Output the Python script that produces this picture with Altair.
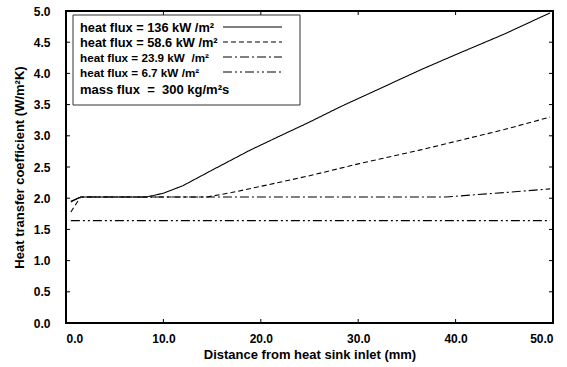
import altair as alt
import pandas as pd

# series data (distance mm, heat transfer coefficient)
x136 = [0.5, 1.5, 4.0, 8.3, 10.0, 12.0, 15.0, 18.9, 22.0, 25.0, 28.1, 32.0, 36.3, 40.0, 45.0, 49.7]
y136 = [1.94, 2.02, 2.02, 2.02, 2.08, 2.20, 2.45, 2.77, 3.00, 3.22, 3.46, 3.74, 4.05, 4.30, 4.63, 4.97]
x586 = [0.5, 1.5, 5.0, 10.0, 14.5, 17.0, 20.0, 25.0, 30.0, 36.3, 40.0, 45.0, 49.7]
y586 = [1.78, 2.02, 2.02, 2.02, 2.02, 2.09, 2.19, 2.36, 2.55, 2.77, 2.91, 3.10, 3.30]
x239 = [0.5, 1.5, 10.0, 20.0, 30.0, 39.0, 45.0, 49.7]
y239 = [1.95, 2.02, 2.02, 2.02, 2.02, 2.02, 2.09, 2.15]
x67 = [0.5, 10.0, 20.0, 30.0, 40.0, 49.7]
y67 = [1.64, 1.64, 1.64, 1.64, 1.64, 1.64]

series_names = ["136", "58.6", "23.9", "6.7"]
dashes = [[1, 0], [5, 3], [9, 3, 2, 3], [9, 3, 2, 3, 2, 3]]
NB = "\u00a0"
legend_labels = ["heat flux = 136 kW /m²", "heat flux = 58.6 kW /m²",
                 "heat flux = 23.9 kW" + NB + NB + "/m²", "heat flux = 6.7 kW /m²"]
legend_sizes = [12.8, 12.8, 11.7, 11.7]
mass_label = "mass flux" + NB + NB + "=" + NB + NB + "300 kg/m²s"

x_ticks = [10, 20, 30, 40]
y_ticks = [0.5, 1.0, 1.5, 2.0, 2.5, 3.0, 3.5, 4.0, 4.5]

W, H = 487, 312
FONT = "Liberation Sans"

xs = alt.Scale(domain=[0, 50], nice=False)
ys = alt.Scale(domain=[0, 5], nice=False)

xaxis = alt.Axis(values=[0, 10, 20, 30, 40, 50], format=".1f", ticks=False,
                 grid=False, domain=False, labelFont=FONT, labelFontWeight="bold",
                 labelFontSize=12, labelColor="black", labelPadding=10,
                 title="Distance from heat sink inlet (mm)", titleFont=FONT,
                 titleFontWeight="bold", titleFontSize=13, titleColor="black",
                 titlePadding=4)
yaxis = alt.Axis(values=[0, 0.5, 1, 1.5, 2, 2.5, 3, 3.5, 4, 4.5, 5], format=".1f",
                 ticks=False, grid=False, domain=False, labelFont=FONT,
                 labelFontWeight="bold", labelFontSize=12, labelColor="black",
                 labelPadding=16, title="Heat transfer coefficient (W/m²K)",
                 titleFont=FONT, titleFontWeight="bold", titleFontSize=13,
                 titleColor="black", titlePadding=7)

layers = []
all_x = [x136, x586, x239, x67]
all_y = [y136, y586, y239, y67]
for i, name in enumerate(series_names):
    df = pd.DataFrame({"x": all_x[i], "y": all_y[i]})
    layers.append(alt.Chart(df).mark_line(color="black", strokeWidth=1.1,
                                          strokeDash=dashes[i]).encode(
        x=alt.X("x:Q", scale=xs, axis=xaxis),
        y=alt.Y("y:Q", scale=ys, axis=yaxis)))

# inward ticks
xt = pd.DataFrame({"x": x_ticks})
yt = pd.DataFrame({"y": y_ticks})
layers.append(alt.Chart(xt).mark_rule(color="black", strokeWidth=1).encode(
    x=alt.X("x:Q", scale=xs, axis=xaxis), y=alt.value(H), y2=alt.value(H - 4)))
layers.append(alt.Chart(xt).mark_rule(color="black", strokeWidth=1).encode(
    x=alt.X("x:Q", scale=xs, axis=xaxis), y=alt.value(0), y2=alt.value(4)))
layers.append(alt.Chart(yt).mark_rule(color="black", strokeWidth=1).encode(
    y=alt.Y("y:Q", scale=ys, axis=yaxis), x=alt.value(0), x2=alt.value(4)))
layers.append(alt.Chart(yt).mark_rule(color="black", strokeWidth=1).encode(
    y=alt.Y("y:Q", scale=ys, axis=yaxis), x=alt.value(W), x2=alt.value(W - 4)))

# legend box
layers.append(alt.Chart(pd.DataFrame({"a": [0]})).mark_rect(
    fill="white", stroke="#333333", strokeWidth=1).encode(
    x=alt.value(7), x2=alt.value(234), y=alt.value(4), y2=alt.value(94)))

rows_y = [17, 32, 47, 62]
for i in range(4):
    layers.append(alt.Chart(pd.DataFrame({"t": [legend_labels[i]]})).mark_text(
        align="left", baseline="middle", font=FONT, fontWeight="bold",
        fontSize=legend_sizes[i], color="black").encode(
        text="t:N", x=alt.value(14), y=alt.value(rows_y[i])))
    layers.append(alt.Chart(pd.DataFrame({"a": [0]})).mark_rule(
        color="black", strokeWidth=1.1, strokeDash=dashes[i]).encode(
        x=alt.value(157), x2=alt.value(216), y=alt.value(rows_y[i] - 1)))
layers.append(alt.Chart(pd.DataFrame({"t": [mass_label]})).mark_text(
    align="left", baseline="middle", font=FONT, fontWeight="bold",
    fontSize=13, color="black").encode(
    text="t:N", x=alt.value(14), y=alt.value(79)))

chart = alt.layer(*layers).properties(
    width=W, height=H, background="white",
    autosize=alt.AutoSizeParams(type="none"),
    padding={"left": 66, "top": 11, "right": 14, "bottom": 44}
).configure_view(stroke="black", strokeWidth=2)

chart.save("out.html", embed_options={"renderer": "svg", "actions": False})
